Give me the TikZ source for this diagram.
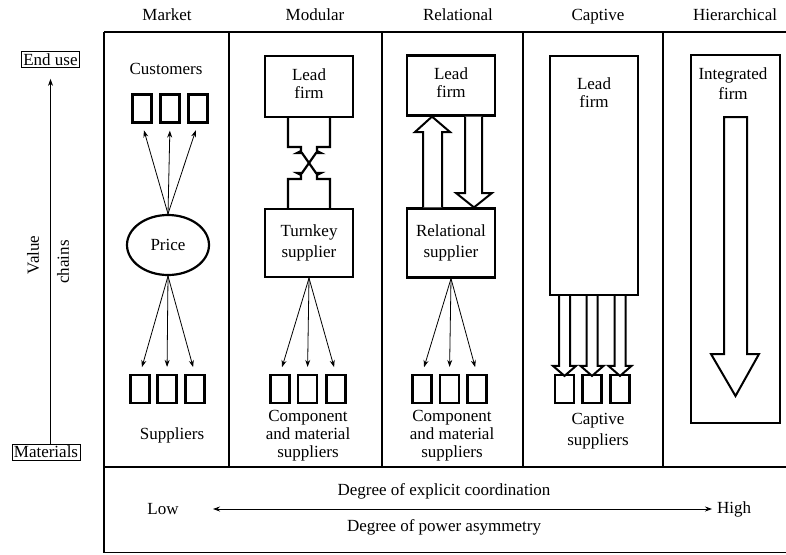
\documentclass[tikz,border=0pt]{standalone}
\usepackage{fontspec}
\setmainfont{Liberation Serif}
\usetikzlibrary{arrows.meta,shapes.geometric,calc}
\begin{document}
\begin{tikzpicture}[x=1pt,y=-1pt,
  font=\rmfamily\fontsize{17}{18}\selectfont,
  frameline/.style={line width=1.3pt},
  firmbox/.style={draw,line width=2.2pt,inner sep=0pt,align=center},
  unitbox/.style={draw,line width=2.2pt,minimum width=19pt,minimum height=28pt,inner sep=0pt},
  axisbox/.style={draw,line width=0.8pt,inner sep=2pt},
  thinarrow/.style={line width=0.8pt,-{Stealth[length=7pt,width=5pt]},shorten >=7pt},
  hollowarrow/.style={draw,line width=2pt,fill=white,line join=miter},
  lbl/.style={align=center,inner sep=0pt},
  header/.style={inner sep=0pt,anchor=base}
]
\useasboundingbox (0,0) rectangle (786,554);

% ---------- frame ----------
\draw[frameline] (104,32) -- (786,32);
\draw[line width=1.8pt] (104,32) -- (104,553);
\foreach \xx in {229,382,523,663} \draw[frameline] (\xx,32) -- (\xx,467);
\draw[line width=2.2pt] (104,467) -- (786,467);
\draw[frameline] (104,552.5) -- (786,552.5);

% ---------- headers ----------
\node[header] (hMarket) at (167,20) {Market};
\node[header] (hModular) at (315,20) {Modular};
\node[header] (hRelational) at (458,20) {Relational};
\node[header] (hCaptive) at (598,20) {Captive};
\node[header] (hHier) at (735,20) {Hierarchical};

% ---------- value chain axis ----------
\node[axisbox] (enduse) at (50.5,59.5) {End use};
\node[axisbox] (mat) at (46,452) {Materials};
\draw[line width=0.8pt,-{Stealth[length=7pt,width=5pt]},shorten >=11pt] (enduse.south |- mat.north) -- (enduse.south);
\node[lbl,rotate=90] (value) at (33,255) {Value};
\node[lbl,rotate=90] (chains) at (63,262) {chains};

% ---------- Market ----------
\node[lbl] (customers) at (166,69) {Customers};
\node[unitbox] (c1) at (142,108.5) {};
\node[unitbox] (c2) at (170,108.5) {};
\node[unitbox] (c3) at (198,108.5) {};
\node[draw,ellipse,line width=2.2pt,minimum width=82pt,minimum height=60pt,inner sep=0pt] (price) at (168,245) {Price};
\node[unitbox] (s1) at (140,389) {};
\node[unitbox] (s2) at (167,389) {};
\node[unitbox] (s3) at (195,389) {};
\node[lbl] (suppliers) at (172,435) {Suppliers};
\foreach \b in {c1,c2,c3} \draw[thinarrow] (price.north) -- (\b.south);
\foreach \b in {s1,s2,s3} \draw[thinarrow] (price.south) -- (\b.north);

% ---------- Modular ----------
\node[firmbox,minimum width=88pt,minimum height=61pt] (mlead) at (309,86.5) {};
\node[lbl] (mleadt) at (309,84) {Lead\\firm};
\node[firmbox,minimum width=88pt,minimum height=68pt,font=\rmfamily\fontsize{17}{21}\selectfont] (turnkey) at (309,243) {Turnkey\\supplier};
% link between lead firm and turnkey supplier
\coordinate (mlL) at ($(mlead.south)+(-21,0)$);
\coordinate (mlR) at ($(mlead.south)+(21,0)$);
\coordinate (tkL) at ($(turnkey.north)+(-21,0)$);
\coordinate (tkR) at ($(turnkey.north)+(21,0)$);
\draw[line width=2.2pt,line join=miter]
  (mlL) -- (288,147) -- (301,147) -- (301,151) -- (297,153) -- (302,153) -- (316,173) -- (321,173) -- (317,175) -- (317,179) -- (330,179) -- (tkR);
\draw[line width=2.2pt,line join=miter]
  (mlR) -- (330,147) -- (317,147) -- (317,151) -- (321,153) -- (316,153) -- (302,173) -- (297,173) -- (301,175) -- (301,179) -- (288,179) -- (tkL);
\node[unitbox] (m1) at (280,389) {};
\node[unitbox] (m2) at (307.5,389) {};
\node[unitbox] (m3) at (336,389) {};
\foreach \b in {m1,m2,m3} \draw[thinarrow] (turnkey.south) -- (\b.north);
\node[lbl] (mcomp) at (308,435.5) {Component\\and material\\suppliers};

% ---------- Relational ----------
\node[firmbox,minimum width=88pt,minimum height=60pt] (rlead) at (451,85.5) {};
\node[lbl] (rleadt) at (451,82.5) {Lead\\firm};
\node[firmbox,minimum width=88pt,minimum height=69pt,font=\rmfamily\fontsize{17}{21}\selectfont] (rsup) at (451,243) {Relational\\supplier};
% hollow up arrow
\draw[hollowarrow] ($(rsup.north)+(-28,0)$) -- (423,132) -- (415,132) -- ($(rlead.south)+(-19,0)$) -- (450,132) -- (442,132) -- ($(rsup.north)+(-9,0)$);
% hollow down arrow
\draw[hollowarrow] ($(rlead.south)+(14,0)$) -- (465,193) -- (456,193) -- ($(rsup.north)+(23,0)$) -- (492,193) -- (482,193) -- ($(rlead.south)+(31,0)$);
\node[unitbox] (r1) at (422,389) {};
\node[unitbox] (r2) at (449.5,389) {};
\node[unitbox] (r3) at (477,389) {};
\foreach \b in {r1,r2,r3} \draw[thinarrow] (rsup.south) -- (\b.north);
\node[lbl] (rcomp) at (452,435.5) {Component\\and material\\suppliers};

% ---------- Captive ----------
\node[firmbox,minimum width=88pt,minimum height=239pt] (clead) at (594,175.5) {};
\node[lbl] (cleadt) at (594,93) {Lead\\firm};
\node[unitbox] (k1) at (564.5,389) {};
\node[unitbox] (k2) at (592,389) {};
\node[unitbox] (k3) at (620,389) {};
\foreach \b in {k1,k2,k3} {
  \draw[hollowarrow] ($(\b.north |- clead.south)+(-5.5,0)$) -- ($(\b.north)+(-5.5,-8)$) -- ($(\b.north)+(-11.5,-8)$) -- ($(\b.north)+(0,2)$) -- ($(\b.north)+(11.5,-8)$) -- ($(\b.north)+(5.5,-8)$) -- ($(\b.north |- clead.south)+(5.5,0)$);
}
\node[lbl,font=\rmfamily\fontsize{17}{21}\selectfont] (csup) at (598,431) {Captive\\suppliers};

% ---------- Hierarchical ----------
\node[firmbox,minimum width=89pt,minimum height=368pt] (integ) at (735.5,239) {};
\node[lbl,font=\rmfamily\fontsize{17}{20}\selectfont] (integt) at (733,84) {Integrated\\firm};
\coordinate (hTop) at (735.5,117);
\coordinate (hTip) at (735.5,396);
\draw[hollowarrow] ($(hTop)+(-11.5,0)$) -- (724,354) -- (711,354) -- (hTip) -- (759,354) -- (747,354) -- ($(hTop)+(11.5,0)$) -- cycle;

% ---------- bottom panel ----------
\node[lbl] (low) at (163,509) {Low};
\node[lbl] (high) at (734,509) {High};
\coordinate (aL) at (213,509);
\coordinate (aR) at (712,509);
\draw[line width=0.8pt,{Stealth[length=7pt,width=5pt]}-{Stealth[length=7pt,width=5pt]}] (aL) -- (aR);
\node[lbl] (coord) at (444,491) {Degree of explicit coordination};
\node[lbl] (power) at (444,527) {Degree of power asymmetry};
\end{tikzpicture}
\end{document}
